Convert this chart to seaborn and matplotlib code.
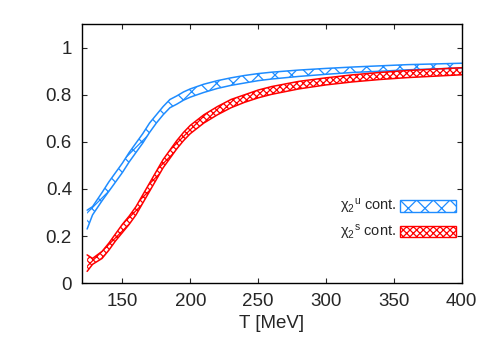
import matplotlib
matplotlib.use('Agg')
import matplotlib.pyplot as plt
from matplotlib.patches import Patch
import pandas as pd
import seaborn as sns

# data
T = [124, 128, 135, 140, 145, 150, 155, 160, 165, 170, 175, 180, 185, 190, 195,
     200, 210, 220, 230, 240, 250, 260, 280, 300, 320, 340, 360, 380, 400]
u_lo = [0.23, 0.29, 0.35, 0.39, 0.43, 0.47, 0.515, 0.555, 0.595, 0.64, 0.68, 0.715, 0.745, 0.76, 0.777,
        0.79, 0.81, 0.827, 0.84, 0.85, 0.86, 0.867, 0.878, 0.887, 0.895, 0.90, 0.906, 0.91, 0.914]
u_hi = [0.31, 0.325, 0.385, 0.43, 0.47, 0.51, 0.555, 0.595, 0.635, 0.68, 0.715, 0.75, 0.78, 0.795, 0.812,
        0.825, 0.845, 0.86, 0.872, 0.882, 0.89, 0.896, 0.905, 0.912, 0.918, 0.923, 0.928, 0.931, 0.934]
s_lo = [0.05, 0.08, 0.105, 0.14, 0.18, 0.215, 0.25, 0.29, 0.34, 0.39, 0.44, 0.49, 0.53, 0.57, 0.605,
        0.635, 0.68, 0.715, 0.745, 0.768, 0.787, 0.802, 0.825, 0.842, 0.855, 0.865, 0.873, 0.879, 0.885]
s_hi = [0.12, 0.105, 0.135, 0.17, 0.21, 0.25, 0.285, 0.325, 0.375, 0.425, 0.475, 0.525, 0.565, 0.605, 0.64,
        0.67, 0.715, 0.75, 0.78, 0.80, 0.82, 0.835, 0.857, 0.872, 0.885, 0.895, 0.903, 0.909, 0.915]

labels = ['χ$_2{}^{\\mathrm{u}}$ cont.', 'χ$_2{}^{\\mathrm{s}}$ cont.']
colors = ['#1e8cff', '#ff0000']
hatches = ['xx', 'xxxxx']

sns.set_style('ticks')
plt.rcParams['font.family'] = ['Liberation Sans', 'DejaVu Sans']
plt.rcParams['mathtext.fontset'] = 'custom'
plt.rcParams['mathtext.rm'] = 'Liberation Sans'
plt.rcParams['mathtext.it'] = 'Liberation Sans:italic'
plt.rcParams['hatch.linewidth'] = 0.9

df = pd.DataFrame({'T': T, 'u_lo': u_lo, 'u_hi': u_hi, 's_lo': s_lo, 's_hi': s_hi})

fig, ax = plt.subplots(figsize=(5, 3.5), dpi=100)
fig.subplots_adjust(left=0.1634, right=0.9234, top=0.931, bottom=0.191)

bands = [('u_lo', 'u_hi'), ('s_lo', 's_hi')]
for (lo, hi), c, h in zip(bands, colors, hatches):
    ax.fill_between(df['T'], df[lo], df[hi], facecolor='none', edgecolor=c, hatch=h, linewidth=0)
    sns.lineplot(data=df, x='T', y=lo, color=c, linewidth=1.1, ax=ax)
    sns.lineplot(data=df, x='T', y=hi, color=c, linewidth=1.1, ax=ax)

ax.set_xlim(120, 400)
ax.set_ylim(0, 1.1)
ax.set_xticks([150, 200, 250, 300, 350, 400])
ax.set_yticks([0, 0.2, 0.4, 0.6, 0.8, 1])
ax.set_yticklabels(['0', '0.2', '0.4', '0.6', '0.8', '1'])
ax.set_xlabel('T [MeV]', fontsize=13.5)
ax.set_ylabel('')
ax.tick_params(direction='in', top=True, right=True, labelsize=13.5, length=3.5, width=0.8, pad=7)
for sp in ax.spines.values():
    sp.set_color('black')
    sp.set_linewidth(1.0)

handles = [Patch(facecolor='none', edgecolor=c, hatch=h, linewidth=1) for c, h in zip(colors, hatches)]
ax.legend(handles, labels, loc='center right', bbox_to_anchor=(1.0, 0.245), frameon=False,
          markerfirst=False, fontsize=10.5, handlelength=3.8, handleheight=0.8,
          handletextpad=0.3, labelspacing=0.45, borderaxespad=0)

fig.savefig('out.png', dpi=100)
